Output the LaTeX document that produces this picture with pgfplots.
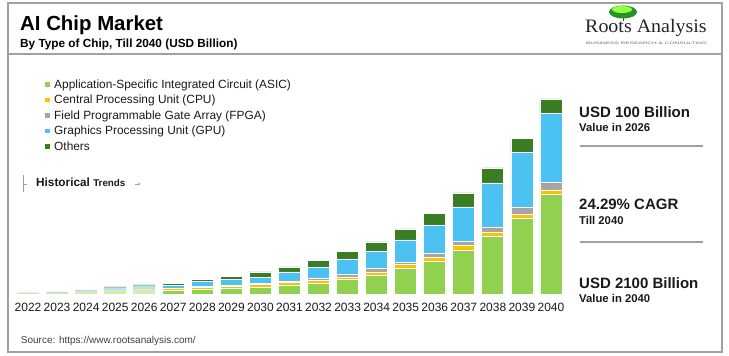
\documentclass[border=0pt]{standalone}
\usepackage{fontspec}
\setmainfont{Liberation Sans}
\newfontfamily\logofont{Liberation Serif}
\usepackage{graphicx}
\usepackage{pgfplots}
\pgfplotsset{compat=1.18}
\usepackage{pgfplotstable}
\usetikzlibrary{arrows.meta}
\definecolor{cASIC}{HTML}{92D050}
\definecolor{cCPU}{HTML}{FFC000}
\definecolor{cFPGA}{HTML}{A5A5A5}
\definecolor{cGPU}{HTML}{4BC2F1}
\definecolor{cOTH}{HTML}{3B7D23}
\definecolor{frm}{HTML}{A0A0A0}
\definecolor{txt}{HTML}{1A1A1A}
\pgfplotstableread{
x asic cpu fpga gpu oth
0 7 2 1 4 2
1 10 3 1 5 3
2 18 6 3 12 6
3 30 10 5 22 13
4 38 12 6 28 16
}\hist
\pgfplotstableread{
x asic cpu fpga gpu oth
5 43 16 5 32 22
6 54 22 5 54 22
7 65 22 5 65 32
8 75 32 11 65 54
9 97 32 11 97 54
10 118 32 22 118 75
11 162 22 22 162 86
12 205 32 43 183 97
13 280 43 22 237 118
14 355 43 43 302 129
15 474 54 43 366 151
16 625 43 54 474 161
17 818 43 75 592 151
18 1077 43 86 743 151
}\proj
\pgfplotsset{basebars/.style={
  scale only axis, width=552pt, height=204.3pt,
  at={(13.5pt,62pt)}, anchor=south west,
  xmin=-0.5, xmax=18.5, ymin=0, ymax=2200,
  ybar stacked, bar width=22pt,
  axis line style={draw=none}, major tick length=0pt,
  ytick=\empty, clip=false,
}}
\begin{document}
\begin{tikzpicture}[x=1pt,y=1pt]
\useasboundingbox (0,0) rectangle (729,356);
\fill[white] (0,0) rectangle (729,356);
% frame
\draw[frm, line width=1.4pt] (8,353) rectangle (722,4);
\draw[frm, line width=1.4pt] (8,302) -- (722,302);
% title
\node[anchor=base west, inner sep=0pt, text=black] at (20,325.3) {\fontsize{20.4}{22}\selectfont\bfseries AI Chip Market};
\node[anchor=base west, inner sep=0pt, text=black] at (20,308.3) {\fontsize{11.8}{13}\selectfont\bfseries By Type of Chip, Till 2040 (USD Billion)};
% logo
\draw[brown!50!black, line width=1pt] (623,340) -- (623,335);
\fill[green!50!black!85] (623,344) ellipse (14pt and 6.5pt);
\fill[green!55!yellow!75] (622,346.5) ellipse (10pt and 3.5pt);
\node[anchor=base west, inner sep=0pt, text=black!85, xscale=1.05] at (585,323.3) {\fontsize{19}{20}\logofont Roots Analysis};
\node[anchor=center, inner sep=0pt, text=black!60] at (646.5,313) {\resizebox{121pt}{2.4pt}{\fontsize{5}{5}\selectfont BUSINESS RESEARCH \& CONSULTING}};
% historical trends
\draw[frm, line width=0.8pt] (23,181) -- (23,164);
\draw[frm, line width=0.6pt] (23,171.5) -- (27,171.5);
\node[anchor=base west, inner sep=0pt, text=txt] at (36,169.3) {\fontsize{11.8}{12}\selectfont\bfseries Historical \fontsize{9.8}{10}\selectfont Trends};
\draw[black!35, line width=0.6pt, -{Latex[length=2.5pt,width=2.5pt]}] (135,172) -- (141,172);
% right panel
\node[anchor=base west, inner sep=0pt, text=txt] at (579,238.7) {\fontsize{15}{16}\selectfont\bfseries USD 100 Billion};
\node[anchor=base west, inner sep=0pt, text=txt] at (579,224.3) {\fontsize{11.3}{12}\selectfont\bfseries Value in 2026};
\draw[frm, line width=1.3pt] (580,210) -- (703,210);
\node[anchor=base west, inner sep=0pt, text=txt] at (579,146) {\fontsize{15}{16}\selectfont\bfseries 24.29\% CAGR};
\node[anchor=base west, inner sep=0pt, text=txt] at (579,131.7) {\fontsize{11.3}{12}\selectfont\bfseries Till 2040};
\draw[frm, line width=1.3pt] (580,114) -- (703,114);
\node[anchor=base west, inner sep=0pt, text=txt] at (579,67.7) {\fontsize{15}{16}\selectfont\bfseries USD 2100 Billion};
\node[anchor=base west, inner sep=0pt, text=txt] at (579,53.3) {\fontsize{11.3}{12}\selectfont\bfseries Value in 2040};
% source
\node[anchor=base west, inner sep=0pt, text=black!75] at (20.7,12.7) {\fontsize{10}{11}\selectfont Source: https://www.rootsanalysis.com/};
% historical bars
\begin{axis}[basebars, xtick=\empty]
\addplot[fill=cASIC, draw=none, fill opacity=0.42] table[x=x,y=asic]{\hist};
\addplot[fill=cCPU, draw=none, fill opacity=0.42] table[x=x,y=cpu]{\hist};
\addplot[fill=cFPGA, draw=none, fill opacity=0.42] table[x=x,y=fpga]{\hist};
\addplot[fill=cGPU, draw=none, fill opacity=0.42] table[x=x,y=gpu]{\hist};
\addplot[fill=cOTH, draw=none, fill opacity=0.42] table[x=x,y=oth]{\hist};
\end{axis}
% projected bars
\begin{axis}[basebars,
  xtick={0,...,18},
  xticklabels={2022,2023,2024,2025,2026,2027,2028,2029,2030,2031,2032,2033,2034,2035,2036,2037,2038,2039,2040},
  xticklabel style={font=\fontsize{12}{12}\selectfont, anchor=base, yshift=-18pt, text=txt},
  legend image code/.code={\fill[#1,draw=none] (0pt,-1.5pt) rectangle (4.5pt,3pt);},
  legend cell align=left,
  legend style={at={(rel axis cs:0.05707,1.0509)}, anchor=north west, draw=none, fill=none,
    inner sep=0pt, row sep=3.4pt, font=\fontsize{11.9}{13}\selectfont, text=txt,
    nodes={inner sep=0pt, text height=9pt, text depth=3pt},
    /tikz/every odd column/.style={column sep=4.5pt}},
]
\addplot[fill=cASIC, draw=white, line width=0.8pt] table[x=x,y=asic]{\proj};
\addplot[fill=cCPU, draw=white, line width=0.8pt] table[x=x,y=cpu]{\proj};
\addplot[fill=cFPGA, draw=white, line width=0.8pt] table[x=x,y=fpga]{\proj};
\addplot[fill=cGPU, draw=white, line width=0.8pt] table[x=x,y=gpu]{\proj};
\addplot[fill=cOTH, draw=white, line width=0.8pt] table[x=x,y=oth]{\proj};
\legend{Application-Specific Integrated Circuit (ASIC),Central Processing Unit (CPU),Field Programmable Gate Array (FPGA),Graphics Processing Unit (GPU),Others}
\end{axis}
\end{tikzpicture}
\end{document}
